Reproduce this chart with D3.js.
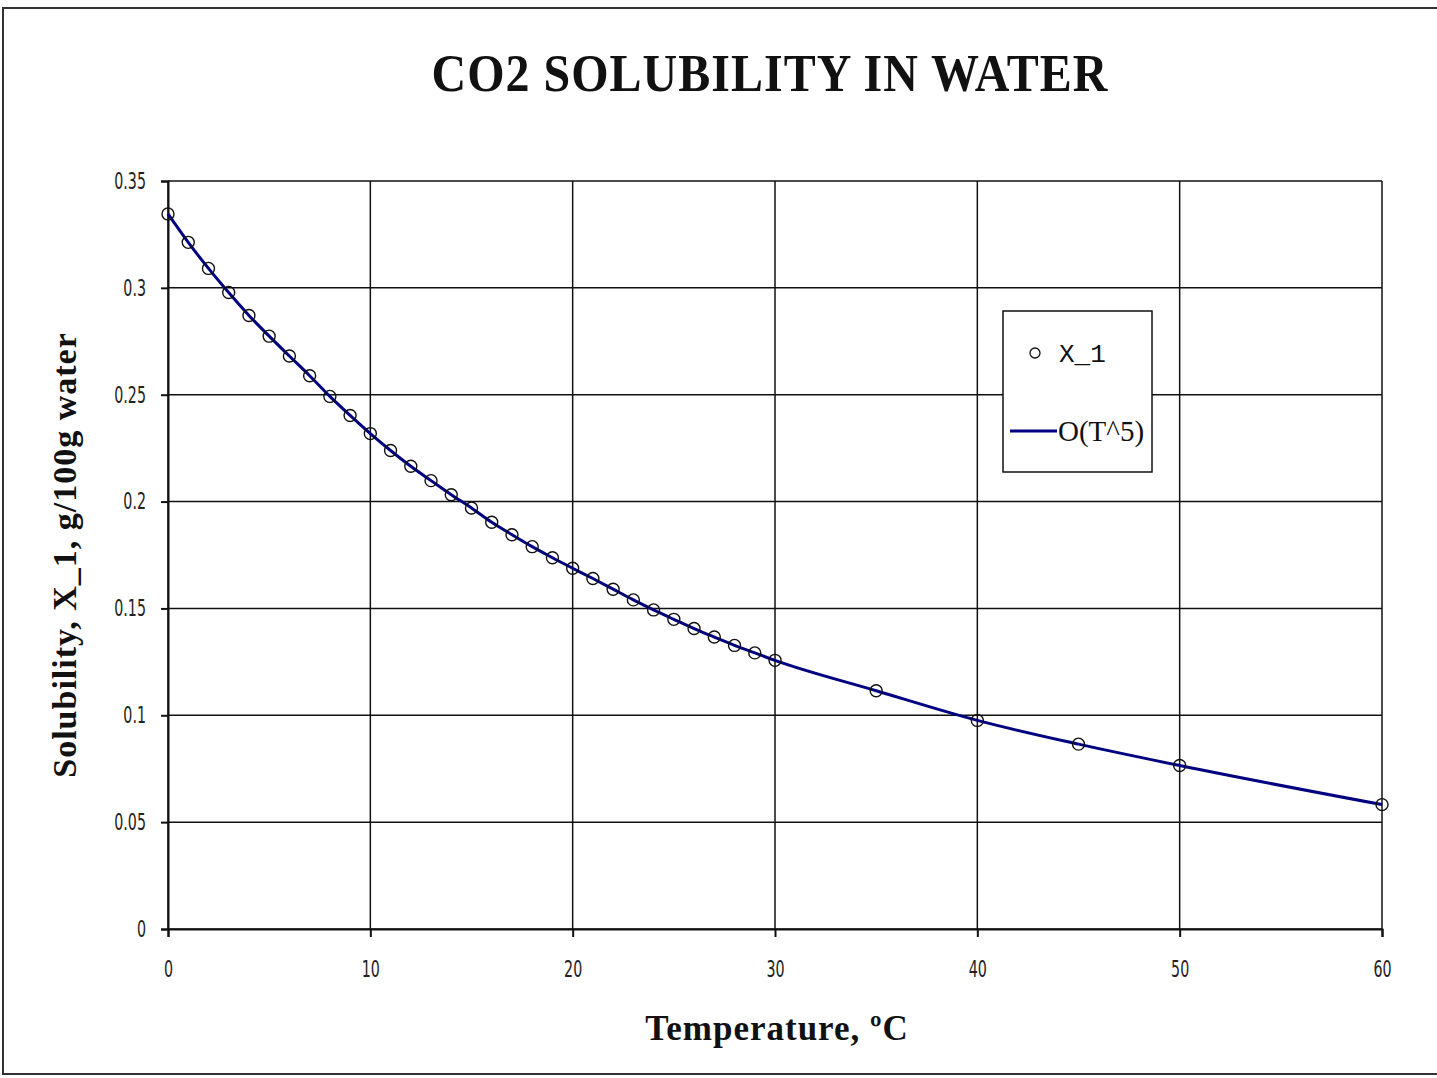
<!DOCTYPE html>
<head>
<meta charset="utf-8">
<title>CO2 Solubility in Water</title>
<style>
  body { margin:0; background:white; }
  .tick text { font-family:"DejaVu Sans",sans-serif; font-size:23px; fill:#222; }
  .ttl { font-family:"Liberation Serif","Times New Roman",serif; font-weight:bold; fill:#111; }
</style>
</head>
<body>
<svg id="chart"></svg>
<script src="https://d3js.org/d3.v7.min.js"></script>
<script>
var temps = [0,1,2,3,4,5,6,7,8,9,10,11,12,13,14,15,16,17,18,19,20,
             21,22,23,24,25,26,27,28,29,30,35,40,45,50,60];
var solubility = [0.3346,0.3213,0.3091,0.2978,0.2871,0.2774,0.2681,0.2589,0.2492,0.2403,0.2318,
                  0.2239,0.2165,0.2098,0.2032,0.1970,0.1903,0.1845,0.1789,0.1737,0.1688,
                  0.1640,0.1590,0.1540,0.1493,0.1449,0.1406,0.1366,0.1327,0.1292,0.1257,
                  0.1115,0.0976,0.0865,0.0765,0.0582];
var xTicks = [0,10,20,30,40,50,60];
var yTicks = [0,0.05,0.1,0.15,0.2,0.25,0.3,0.35];

var width = 1437, height = 1078;
var svg = d3.select("#chart").attr("width", width).attr("height", height);

// outer frame
svg.append("rect").attr("x", 3).attr("y", 8).attr("width", 1450).attr("height", 1066)
   .attr("fill", "none").attr("stroke", "#333").attr("stroke-width", 2);

var x = d3.scaleLinear().domain([0, 60]).range([168, 1382]);
var y = d3.scaleLinear().domain([0, 0.35]).range([929, 181]);

// grid
svg.append("g").selectAll("line").data(xTicks).enter().append("line")
   .attr("x1", d => x(d)).attr("x2", d => x(d)).attr("y1", y(0)).attr("y2", y(0.35))
   .attr("stroke", "#111").attr("stroke-width", 1.5);
svg.append("g").selectAll("line").data(yTicks).enter().append("line")
   .attr("x1", x(0)).attr("x2", x(60)).attr("y1", d => y(d)).attr("y2", d => y(d))
   .attr("stroke", "#111").attr("stroke-width", 1.5);

var xAxis = svg.append("g").attr("transform", "translate(0," + y(0) + ")")
   .call(d3.axisBottom(x).tickValues(xTicks).tickSize(8).tickPadding(24).tickFormat(d3.format("d")));
var yAxis = svg.append("g").attr("transform", "translate(" + x(0) + ",0)")
   .call(d3.axisLeft(y).tickValues(yTicks).tickSize(7).tickFormat(d => d === 0 ? "0" : String(+d.toFixed(2))));
[xAxis, yAxis].forEach(function(a) {
  a.selectAll("path,line").attr("stroke", "#111").attr("stroke-width", 2);
  a.selectAll("text").attr("transform", "scale(0.62,1)");
});
// narrow labels: push x so right edge lands ~22px left of axis after scaling
yAxis.selectAll("text").attr("x", -22 / 0.62);

// fit line
var pts = temps.map((t, i) => [t, solubility[i]]);
svg.append("path").datum(pts)
   .attr("d", d3.line().x(d => x(d[0])).y(d => y(d[1])).curve(d3.curveMonotoneX))
   .attr("fill", "none").attr("stroke", "#000080").attr("stroke-width", 3);

// data markers
svg.append("g").selectAll("circle").data(pts).enter().append("circle")
   .attr("cx", d => x(d[0])).attr("cy", d => y(d[1])).attr("r", 6)
   .attr("fill", "none").attr("stroke", "#111").attr("stroke-width", 1.4);

// titles
svg.append("text").attr("class", "ttl").attr("transform", "translate(770,91) scale(1,1.12)")
   .attr("text-anchor", "middle").style("font-size", "48px").style("letter-spacing", "1px")
   .text("CO2 SOLUBILITY IN WATER");
svg.append("text").attr("class", "ttl").attr("x", 777).attr("y", 1040)
   .attr("text-anchor", "middle").style("font-size", "35px").style("letter-spacing", "1px")
   .text("Temperature, ºC");
svg.append("text").attr("class", "ttl")
   .attr("transform", "translate(76,555) rotate(-90)")
   .attr("text-anchor", "middle").style("font-size", "34px").style("letter-spacing", "1px")
   .text("Solubility, X_1, g/100g water");

// legend
var lg = svg.append("g");
lg.append("rect").attr("x", 1003).attr("y", 311).attr("width", 149).attr("height", 161)
  .attr("fill", "white").attr("stroke", "#111").attr("stroke-width", 1.5);
lg.append("circle").attr("cx", 1035).attr("cy", 353).attr("r", 5)
  .attr("fill", "none").attr("stroke", "#111").attr("stroke-width", 1.3);
lg.append("text").attr("x", 1059).attr("y", 362).attr("font-family", "Liberation Mono, DejaVu Sans Mono, monospace")
  .attr("font-size", 26).attr("fill", "#111").text("X_1");
lg.append("line").attr("x1", 1010).attr("x2", 1057).attr("y1", 431).attr("y2", 431)
  .attr("stroke", "#000080").attr("stroke-width", 3);
lg.append("text").attr("x", 1058).attr("y", 441).attr("font-family", "Liberation Serif, serif")
  .attr("font-size", 29).attr("fill", "#111").text("O(T^5)");
</script>
</body>
